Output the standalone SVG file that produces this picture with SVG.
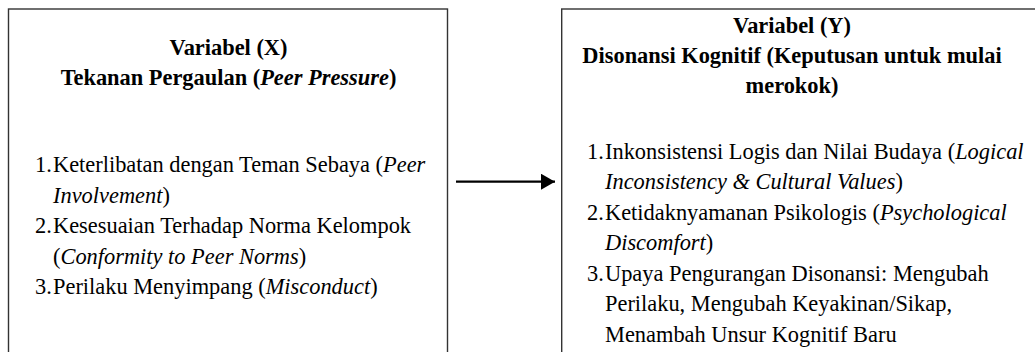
<svg xmlns="http://www.w3.org/2000/svg" width="1035" height="352" viewBox="0 0 1035 352">
  <style>
    .box { fill: #ffffff; stroke: #333333; stroke-width: 1.4; }
    .t { font-family: 'Liberation Serif', 'Times New Roman', serif; font-size: 22.4px; fill: #000000; }
    .title { font-weight: bold; text-anchor: middle; }
    .it { font-style: italic; }
    .conn { stroke: #000000; stroke-width: 2.2; fill: none; }
  </style>
  <defs>
    <marker id="arrow" markerUnits="userSpaceOnUse" markerWidth="16" markerHeight="18" refX="14" refY="8" orient="auto">
      <polygon points="0,0 14,8 0,16" fill="#000000"/>
    </marker>
  </defs>
  <rect width="1035" height="352" fill="#ffffff"/>

  <g id="node-x" class="t">
    <rect class="box" x="8.5" y="9" width="439" height="360"/>
    <text class="title" x="228.5" y="55">Variabel (X)</text>
    <text class="title" x="228.5" y="85">Tekanan Pergaulan (<tspan class="it">Peer Pressure</tspan>)</text>
    <text x="35" y="172">1.</text>
    <text x="53" y="172">Keterlibatan dengan Teman Sebaya (<tspan class="it">Peer</tspan></text>
    <text x="53" y="202.5"><tspan class="it">Involvement</tspan>)</text>
    <text x="35" y="233">2.</text>
    <text x="53" y="233">Kesesuaian Terhadap Norma Kelompok</text>
    <text x="53" y="263.5">(<tspan class="it">Conformity to Peer Norms</tspan>)</text>
    <text x="35" y="294">3.</text>
    <text x="53" y="294">Perilaku Menyimpang (<tspan class="it">Misconduct</tspan>)</text>
  </g>

  <g id="node-y" class="t">
    <rect class="box" x="561.7" y="9" width="500" height="360"/>
    <text class="title" x="792" y="33">Variabel (Y)</text>
    <text class="title" x="792" y="63">Disonansi Kognitif (Keputusan untuk mulai</text>
    <text class="title" x="792" y="93">merokok)</text>
    <text x="587" y="158.5">1.</text>
    <text x="605" y="158.5">Inkonsistensi Logis dan Nilai Budaya (<tspan class="it">Logical</tspan></text>
    <text x="605" y="189"><tspan class="it">Inconsistency &amp; Cultural Values</tspan>)</text>
    <text x="587" y="219.5">2.</text>
    <text x="605" y="219.5">Ketidaknyamanan Psikologis (<tspan class="it">Psychological</tspan></text>
    <text x="605" y="250"><tspan class="it">Discomfort</tspan>)</text>
    <text x="587" y="280.5">3.</text>
    <text x="605" y="280.5">Upaya Pengurangan Disonansi: Mengubah</text>
    <text x="605" y="311">Perilaku, Mengubah Keyakinan/Sikap,</text>
    <text x="605" y="341.5">Menambah Unsur Kognitif Baru</text>
  </g>

  <g id="connectors">
    <line class="conn" x1="456" y1="181.7" x2="555" y2="181.7" marker-end="url(#arrow)"/>
  </g>
</svg>
